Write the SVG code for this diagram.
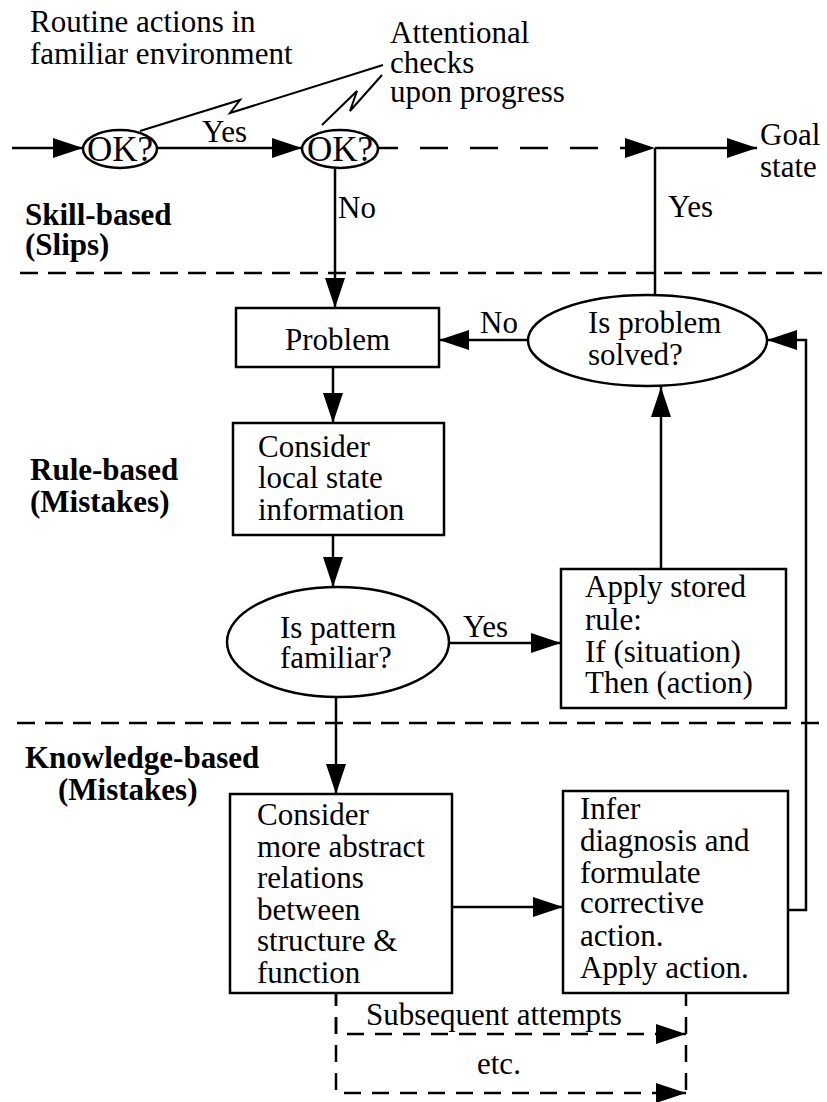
<svg xmlns="http://www.w3.org/2000/svg" width="827" height="1102" viewBox="0 0 827 1102">
<style>
text{font-family:"Liberation Serif","Times New Roman",serif;font-size:31px;fill:#000}
.b{font-weight:bold}
.ok{font-size:35px}
.n{fill:#fff;stroke:#000;stroke-width:2.5}
.c{fill:none;stroke:#000;stroke-width:2.5}
.dl{stroke-dasharray:28 22}
.ds{stroke-dasharray:17 11}
.sep{fill:none;stroke:#000;stroke-width:2.5;stroke-dasharray:18 10}
.ld{fill:none;stroke:#000;stroke-width:2}
</style>
<defs>
<marker id="ah" markerWidth="30" markerHeight="20" refX="30" refY="10" orient="auto" markerUnits="userSpaceOnUse"><path d="M0,0 L30,10 L0,20 Z" fill="#000"/></marker>
</defs>
<g id="separators">
<line class="sep" x1="20" y1="273" x2="827" y2="273"/>
<line class="sep" x1="17" y1="723" x2="827" y2="723"/>
</g>
<g id="connectors">
<path class="c" d="M12,148 L83,148" marker-end="url(#ah)"/>
<path class="c" d="M157,148 L302,148" marker-end="url(#ah)"/>
<path class="c dl" d="M370,148 L655,148" marker-end="url(#ah)"/>
<path class="c" d="M655,148 L757,148" marker-end="url(#ah)"/>
<path class="c" d="M655,296 L655,148"/>
<path class="c" d="M335,168 L335,308" marker-end="url(#ah)"/>
<path class="c" d="M333,367 L333,423" marker-end="url(#ah)"/>
<path class="c" d="M333,535 L333,587" marker-end="url(#ah)"/>
<path class="c" d="M336,697 L336,794" marker-end="url(#ah)"/>
<path class="c" d="M449,643 L561,643" marker-end="url(#ah)"/>
<path class="c" d="M661,569 L661,387" marker-end="url(#ah)"/>
<path class="c" d="M528,340 L439,340" marker-end="url(#ah)"/>
<path class="c" d="M788,910 L806,910 L806,340 L767,340" marker-end="url(#ah)"/>
<path class="c" d="M452,907 L563,907" marker-end="url(#ah)"/>
<path class="c ds" d="M336,989 L336,1034 L686,1034" marker-end="url(#ah)"/>
<path class="c ds" d="M336,989 L336,1093 L686,1093" marker-end="url(#ah)"/>
<path class="c ds" d="M686,989 L686,1093"/>
<polyline class="ld" points="140,131 240,100 230,113 383,65"/>
<polyline class="ld" points="322,125 357,91 350,111 382,75"/>
<text x="202" y="142">Yes</text>
<text x="338" y="218">No</text>
<text x="668" y="217">Yes</text>
<text x="480" y="333">No</text>
<text x="463" y="637">Yes</text>
<text x="366" y="1025">Subsequent attempts</text>
<text x="477" y="1074">etc.</text>
</g>
<g id="ok1">
<ellipse class="n" cx="120" cy="149" rx="37" ry="19"/>
<text class="ok" x="120" y="161" text-anchor="middle">OK?</text>
</g>
<g id="ok2">
<ellipse class="n" cx="340" cy="149" rx="38" ry="19"/>
<text class="ok" x="340" y="161" text-anchor="middle">OK?</text>
</g>
<g id="problem">
<rect class="n" x="236" y="308" width="203" height="59"/>
<text x="337.5" y="350" text-anchor="middle">Problem</text>
</g>
<g id="consider-local">
<rect class="n" x="233" y="423" width="211" height="112"/>
<text x="258" y="457">Consider</text>
<text x="258" y="488">local state</text>
<text x="258" y="520">information</text>
</g>
<g id="pattern">
<ellipse class="n" cx="338" cy="642" rx="111" ry="55"/>
<text x="280" y="638">Is pattern</text>
<text x="280" y="668">familiar?</text>
</g>
<g id="solved">
<ellipse class="n" cx="647.5" cy="340.5" rx="119.5" ry="45.5"/>
<text x="588" y="333">Is problem</text>
<text x="588" y="365">solved?</text>
</g>
<g id="apply-rule">
<rect class="n" x="561" y="569" width="225" height="139"/>
<text x="585" y="597">Apply stored</text>
<text x="585" y="630">rule:</text>
<text x="585" y="662">If (situation)</text>
<text x="585" y="693">Then (action)</text>
</g>
<g id="consider-abstract">
<rect class="n" x="230" y="794" width="222" height="199"/>
<text x="257" y="825">Consider</text>
<text x="257" y="857">more abstract</text>
<text x="257" y="888">relations</text>
<text x="257" y="920">between</text>
<text x="257" y="951">structure &amp;</text>
<text x="257" y="983">function</text>
</g>
<g id="infer">
<rect class="n" x="563" y="791" width="225" height="202"/>
<text x="580" y="819">Infer</text>
<text x="580" y="851">diagnosis and</text>
<text x="580" y="883">formulate</text>
<text x="580" y="913">corrective</text>
<text x="580" y="946">action.</text>
<text x="580" y="978">Apply action.</text>
</g>
<g id="annotations">
<text x="30" y="32">Routine actions in</text>
<text x="30" y="64">familiar environment</text>
<text x="390" y="43">Attentional</text>
<text x="390" y="73">checks</text>
<text x="390" y="102">upon progress</text>
<text x="760" y="145">Goal</text>
<text x="760" y="177">state</text>
</g>
<g id="levels">
<text class="b" x="25" y="225">Skill-based</text>
<text class="b" x="25" y="255">(Slips)</text>
<text class="b" x="30" y="480">Rule-based</text>
<text class="b" x="30" y="512">(Mistakes)</text>
<text class="b" x="25" y="768">Knowledge-based</text>
<text class="b" x="58" y="800">(Mistakes)</text>
</g>
</svg>
